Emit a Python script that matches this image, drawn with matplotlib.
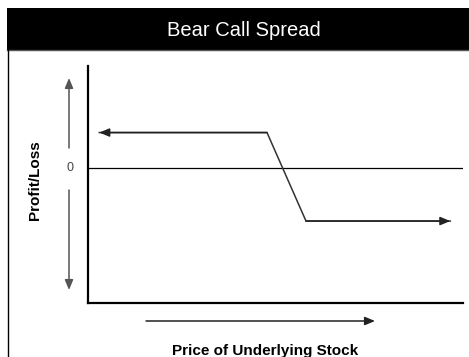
import matplotlib
matplotlib.use("Agg")
import matplotlib.pyplot as plt
from matplotlib.patches import Rectangle
from matplotlib.lines import Line2D
import matplotlib.transforms as mtransforms

# Payoff of a bear call spread: short lower strike call, long higher strike call
price = [28.5, 50.0, 55.0, 73.5]
pnl = [2.0, 2.0, -3.0, -3.0]

title = "Bear Call Spread"
xlabel = "Price of Underlying Stock"
ylabel = "Profit/Loss"
zero_label = "0"

W, H = 469, 357
fig = plt.figure(figsize=(W / 100, H / 100), dpi=100)
fig.patch.set_facecolor("white")
plt.rcParams["font.family"] = ["Liberation Sans", "DejaVu Sans"]


def fx(px):
    return px / W


def fy(py):
    return 1 - py / H


# Title bar
fig.patches.append(Rectangle((fx(7), fy(50)), fx(469) - fx(7), fy(8) - fy(50),
                             transform=fig.transFigure, facecolor="black",
                             edgecolor="none", zorder=0))
fig.lines.append(Line2D([fx(7), fx(469)], [fy(50), fy(50)], transform=fig.transFigure,
                        color="#555555", lw=1.0))
fig.lines.append(Line2D([fx(7.5), fx(7.5)], [fy(50), fy(357)], transform=fig.transFigure,
                        color="black", lw=1.0))
fig.text(fx(244), fy(30), title, color="white", fontsize=14.5, ha="center", va="center")

# Plot area
ax = fig.add_axes([fx(88), fy(303), fx(463) - fx(88), fy(66) - fy(303)])
ax.set_xlim(27.05, 75.13)
ax.set_ylim(-7.63, 5.76)
for s in ("top", "right"):
    ax.spines[s].set_visible(False)
for s in ("left", "bottom"):
    ax.spines[s].set_linewidth(1.6)
    ax.spines[s].set_color("black")
ax.set_xticks([])
ax.set_yticks([])
ax.patch.set_alpha(0)

ax.axhline(0, color="black", lw=0.9, zorder=1)
ax.plot(price, pnl, color="#333333", lw=1.1, solid_joinstyle="miter", zorder=2)

head = dict(arrowstyle="-|>,head_length=0.6,head_width=0.25", color="#222222",
            lw=1.1, shrinkA=0, shrinkB=0, mutation_scale=10)
ax.annotate("", xy=(price[0], pnl[0]), xytext=(price[1], pnl[1]), arrowprops=head)
ax.annotate("", xy=(price[-1], pnl[-1]), xytext=(price[-2], pnl[-2]), arrowprops=head)

# Axis direction arrows and labels
side = dict(arrowstyle="-|>,head_length=0.6,head_width=0.25", color="#555555",
            lw=1.1, shrinkA=0, shrinkB=0, mutation_scale=10)
fig_px = fig.transFigure
ax.annotate("", xy=(fx(69), fy(78)), xytext=(fx(69), fy(148)),
            xycoords=fig_px, textcoords=fig_px, arrowprops=side)
ax.annotate("", xy=(fx(69), fy(290)), xytext=(fx(69), fy(190)),
            xycoords=fig_px, textcoords=fig_px, arrowprops=side)
ax.annotate("", xy=(fx(375), fy(321)), xytext=(fx(146), fy(321)),
            xycoords=fig_px, textcoords=fig_px,
            arrowprops=dict(side, color="#222222"))

zero_tr = mtransforms.blended_transform_factory(fig.transFigure, ax.transData)
fig.text(fx(70), 0, zero_label, transform=zero_tr, fontsize=9, color="#444444",
         ha="center", va="center")
fig.text(fx(35), fy(180), ylabel, rotation=90, fontsize=11, fontweight="bold",
         ha="center", va="center")
fig.text(fx(265), fy(351), xlabel, fontsize=11, fontweight="bold",
         ha="center", va="center")

fig.savefig("out.png", dpi=100)
